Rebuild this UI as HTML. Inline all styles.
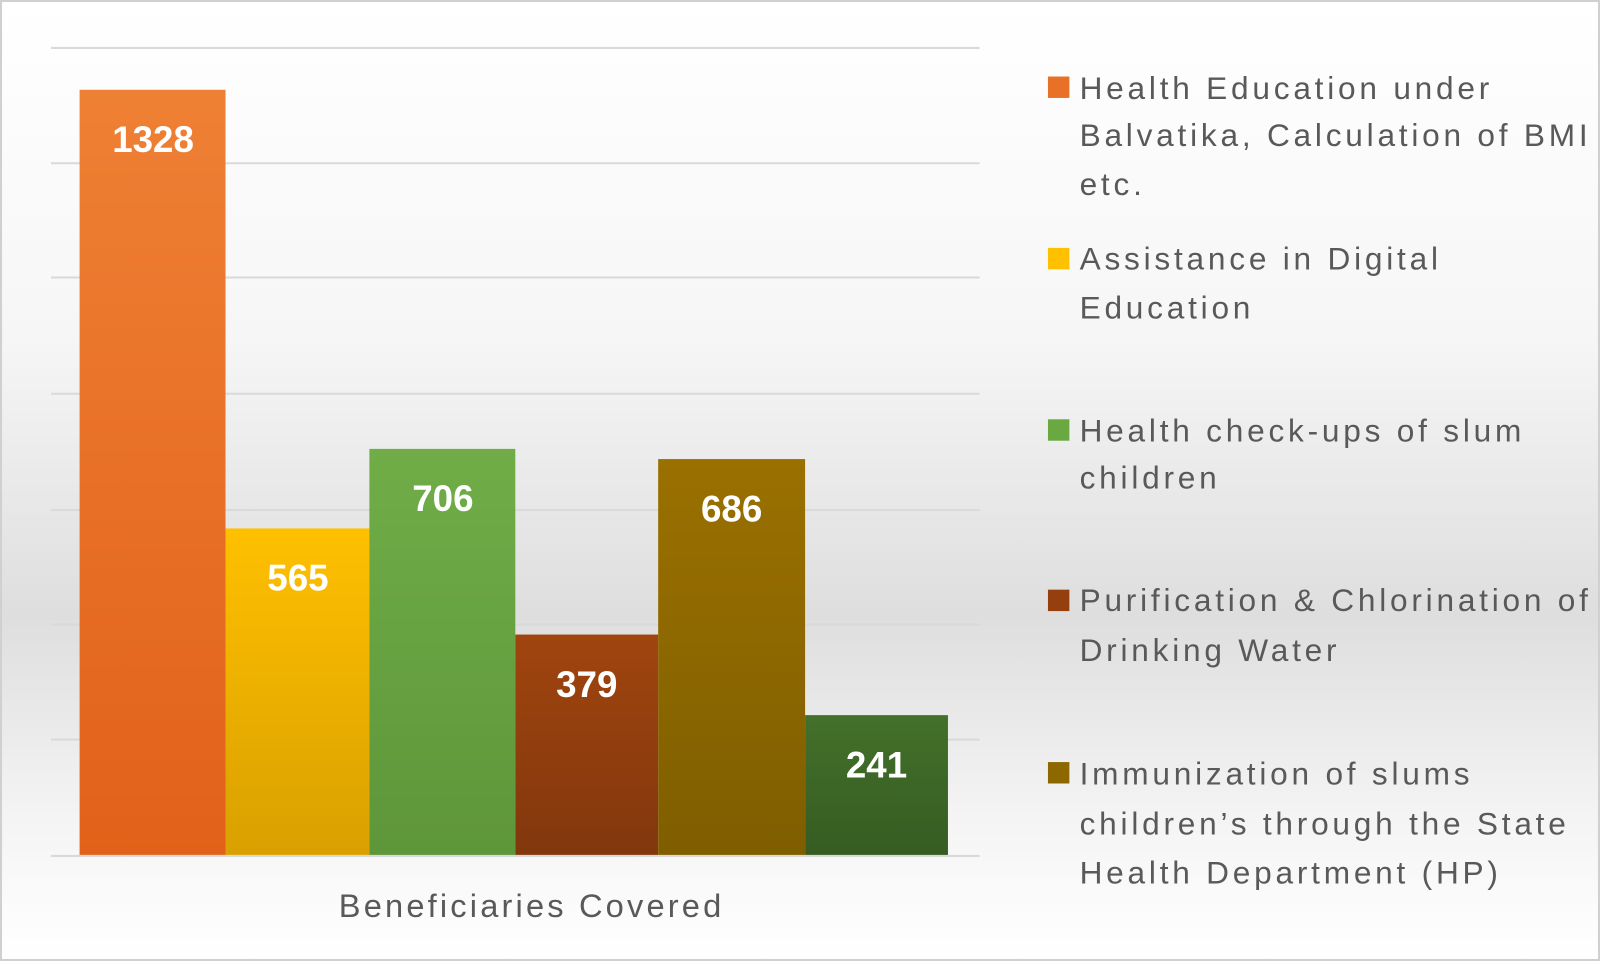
<!DOCTYPE html>
<html><head><meta charset="utf-8"><style>
html,body{margin:0;padding:0;background:#fff}
svg{display:block}
</style></head><body>
<svg width="1600" height="961" viewBox="0 0 1568 942" preserveAspectRatio="none" xmlns="http://www.w3.org/2000/svg">
<defs>
<linearGradient id="bg" x1="0" y1="0" x2="0" y2="1">
<stop offset="0" stop-color="#ffffff"/><stop offset="0.35" stop-color="#f6f6f6"/><stop offset="0.64" stop-color="#dedede"/><stop offset="0.85" stop-color="#f4f4f4"/><stop offset="1" stop-color="#ffffff"/></linearGradient>
<linearGradient id="o" x1="0" y1="0" x2="0" y2="1"><stop offset="0" stop-color="#ee8034"/><stop offset="1" stop-color="#e2611a"/></linearGradient>
<linearGradient id="y" x1="0" y1="0" x2="0" y2="1"><stop offset="0" stop-color="#ffc000"/><stop offset="1" stop-color="#d9a000"/></linearGradient>
<linearGradient id="g" x1="0" y1="0" x2="0" y2="1"><stop offset="0" stop-color="#70ad47"/><stop offset="1" stop-color="#5e963a"/></linearGradient>
<linearGradient id="b" x1="0" y1="0" x2="0" y2="1"><stop offset="0" stop-color="#a0450f"/><stop offset="1" stop-color="#82370d"/></linearGradient>
<linearGradient id="ol" x1="0" y1="0" x2="0" y2="1"><stop offset="0" stop-color="#9a7000"/><stop offset="1" stop-color="#7f5e00"/></linearGradient>
<linearGradient id="dg" x1="0" y1="0" x2="0" y2="1"><stop offset="0" stop-color="#43702a"/><stop offset="1" stop-color="#365c22"/></linearGradient>
</defs>
<rect x="1" y="1" width="1566" height="940" fill="url(#bg)" stroke="#d0d0d0" stroke-width="2"/>
<g stroke="#d9d9d9" stroke-width="2">
<line x1="50" y1="47" x2="960" y2="47"/><line x1="50" y1="160" x2="960" y2="160"/>
<line x1="50" y1="272" x2="960" y2="272"/><line x1="50" y1="386" x2="960" y2="386"/>
<line x1="50" y1="500" x2="960" y2="500"/><line x1="50" y1="612" x2="960" y2="612"/>
<line x1="50" y1="725" x2="960" y2="725"/><line x1="50" y1="839" x2="960" y2="839"/>
</g>
<rect x="78" y="88" width="143" height="750" fill="url(#o)"/>
<rect x="221" y="518" width="141" height="320" fill="url(#y)"/>
<rect x="362" y="440" width="143" height="398" fill="url(#g)"/>
<rect x="505" y="622" width="140" height="216" fill="url(#b)"/>
<rect x="645" y="450" width="144" height="388" fill="url(#ol)"/>
<rect x="789" y="701" width="140" height="137" fill="url(#dg)"/>
<g font-family="Liberation Sans, sans-serif" font-weight="bold" font-size="36" fill="#fff" text-anchor="middle">
<text x="150" y="149">1328</text><text x="292" y="579">565</text><text x="434" y="501">706</text>
<text x="575" y="683">379</text><text x="717" y="511">686</text><text x="859" y="762">241</text>
</g>
<text x="521" y="899" text-anchor="middle" font-family="Liberation Sans, sans-serif" font-size="32" fill="#595959" letter-spacing="3.1">Beneficiaries Covered</text>
<g font-family="Liberation Sans, sans-serif" font-size="31" fill="#595959" letter-spacing="3.7">
<rect x="1027" y="75" width="21" height="21" fill="#e97127"/>
<text x="1058" y="97">Health Education under</text><text x="1058" y="143">Balvatika, Calculation of BMI</text><text x="1058" y="191">etc.</text>
<rect x="1027" y="243" width="21" height="21" fill="#ffc000"/>
<text x="1058" y="264">Assistance in Digital</text><text x="1058" y="312">Education</text>
<rect x="1027" y="411" width="21" height="21" fill="#6aa842"/>
<text x="1058" y="433">Health check-ups of slum</text><text x="1058" y="479">children</text>
<rect x="1027" y="578" width="21" height="21" fill="#963f0e"/>
<text x="1058" y="599">Purification &amp; Chlorination of</text><text x="1058" y="648">Drinking Water</text>
<rect x="1027" y="747" width="21" height="21" fill="#8d6800"/>
<text x="1058" y="769">Immunization of slums</text><text x="1058" y="818">children’s through the State</text><text x="1058" y="866">Health Department (HP)</text>
</g>
</svg>
</body></html>
